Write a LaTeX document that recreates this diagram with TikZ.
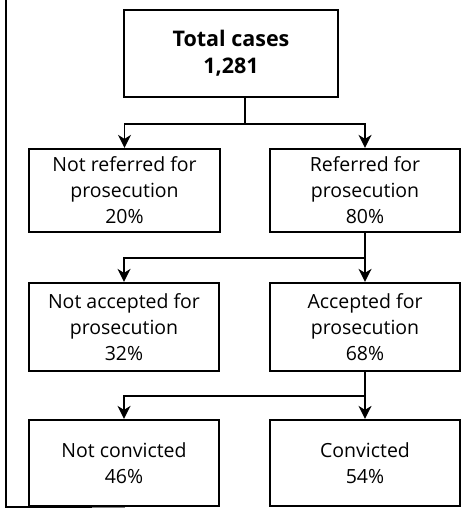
\documentclass[tikz,border=0pt]{standalone}
\usepackage{fontspec}
\setmainfont{Open Sans}
\usetikzlibrary{arrows.meta}
\begin{document}
\begin{tikzpicture}[x=1pt,y=-1pt,
  box/.style={draw,line width=2.2pt,align=center,inner sep=0pt,
    font=\fontsize{19.5}{26}\selectfont},
  conn/.style={line width=1.8pt},
  arr/.style={conn,-{Stealth[length=13pt,width=13pt,inset=4pt]}}]
\useasboundingbox (0,0) rectangle (474,518);
\draw[line width=1.5pt] (6,0) -- (6,507) -- (92,507);
\draw[line width=0.8pt,gray] (92,507) -- (125,507);
\node[box,minimum width=214pt,minimum height=87pt,font=\fontsize{21.5}{27}\selectfont\bfseries] (tot) at (231,53.5) {Total cases\\1,281};
\node[box,minimum width=191pt,minimum height=83pt] (nr) at (124.5,190.5) {Not referred for\\prosecution\\20\%};
\node[box,minimum width=190pt,minimum height=83pt] (r) at (365,190.5) {Referred for\\prosecution\\80\%};
\node[box,minimum width=190pt,minimum height=88pt] (na) at (124,327) {Not accepted for\\prosecution\\32\%};
\node[box,minimum width=190pt,minimum height=88pt] (a) at (365,327) {Accepted for\\prosecution\\68\%};
\node[box,minimum width=190pt,minimum height=86pt] (nc) at (124,463) {Not convicted\\46\%};
\node[box,minimum width=190pt,minimum height=86pt] (c) at (365,463) {Convicted\\54\%};
\coordinate (j1) at (245,124);
\coordinate (j2) at (365,258);
\coordinate (j3) at (365,396);
\draw[conn] (tot.south -| j1) -- (j1);
\draw[arr] (j1) -| (nr.north);
\draw[arr] (j1) -| (r.north);
\draw[arr] (r.south) -- (a.north);
\draw[arr] (j2) -| (na.north);
\draw[arr] (a.south) -- (c.north);
\draw[arr] (j3) -| (nc.north);
\end{tikzpicture}
\end{document}
